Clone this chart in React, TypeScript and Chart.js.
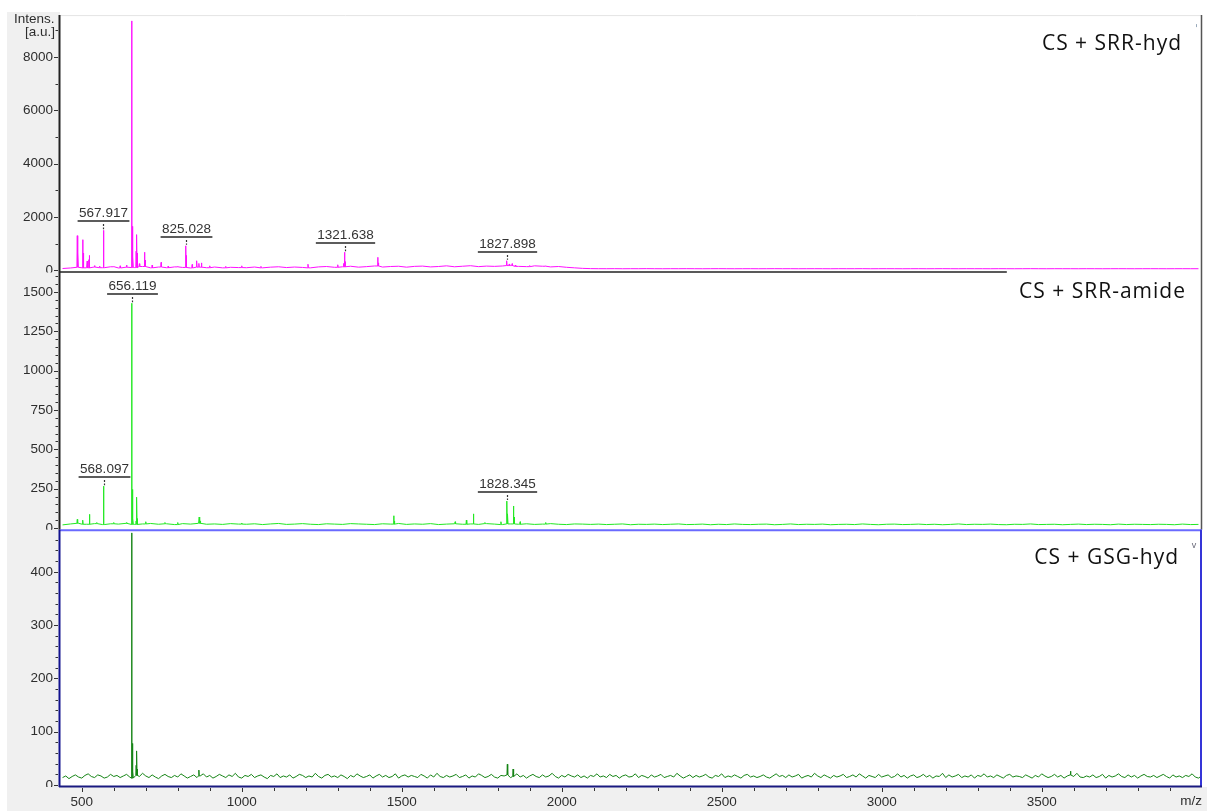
import React, { useEffect, useRef } from 'react';
import { Chart, registerables } from 'chart.js';

Chart.register(...registerables);

// ---------- data ----------
const baseMzStart = 440;
const topMidStep = 25;
const botStep = 10;

const topBaseline = [
  70, 90, 115, 95, 125, 100, 135, 90, 120, 105, 145, 95, 125, 100, 130, 110, 90, 120, 100, 125, 95, 115, 105,
  100, 125, 95, 120, 135, 105, 125, 110, 95, 130, 145, 115, 135, 155, 120, 140, 165, 125, 145, 155, 120, 150,
  160, 130, 145, 170, 135, 155, 175, 140, 160, 150, 165, 180, 150, 140, 170, 155, 130, 145, 115, 95, 75,
  66, 63, 62, 64, 61, 63, 62, 65, 62, 61, 63, 62, 64, 62, 61, 63, 64, 62, 61, 62,
  63, 61, 62, 64, 62, 63, 61, 62, 63, 62, 61, 63, 62, 62, 64, 61, 62, 63, 62, 61,
  62, 63, 61, 62, 64, 62, 61, 63, 62, 62, 61, 63, 62, 61, 62, 64, 62, 61, 63, 62,
  62, 61, 63, 62, 61, 62, 63, 62, 61, 62, 63, 62, 61, 62, 63, 62, 62,
];

const midBaseline = [
  20, 26, 30, 24, 28, 22, 27, 25, 30, 23, 26, 29, 24, 27, 22, 28, 25, 30, 24, 26, 23, 28, 25,
  24, 27, 22, 26, 29, 23, 25, 28, 24, 22, 27, 25, 23, 28, 26, 24, 22, 27, 25, 29,
  23, 26, 24, 28, 22, 25, 27, 24, 26, 23, 28, 25, 22, 26, 24, 27, 23, 25, 28, 24, 22, 26, 25,
  23, 25, 22, 24, 26, 21, 24, 23, 25, 22, 24, 26, 22, 23, 25, 21, 24, 22, 26, 23,
  22, 24, 25, 21, 23, 26, 22, 24, 23, 25, 21, 23, 24, 22, 26, 23, 21, 24, 25, 22,
  23, 25, 22, 24, 21, 23, 26, 22, 24, 23, 25, 22, 21, 24, 23, 26, 22, 23, 24, 21,
  23, 25, 22, 24, 23, 21, 25, 22, 24, 23, 22, 24, 23, 21, 25, 22, 23,
];

const botBaseline = [
  14, 17, 12, 16, 19, 15, 13, 18, 21, 16, 14, 19, 17, 13, 15, 20, 16, 18, 14, 17,
  20, 15, 13, 18, 16, 22, 17, 14, 19, 15, 12, 17, 20, 16, 14, 18, 15, 21, 17, 13,
  16, 19, 14, 17, 21, 15, 18, 13, 16, 20, 17, 14, 19, 16, 22, 15, 13, 18, 16, 20,
  14, 17, 19, 15, 12, 18, 16, 21, 14, 17, 15, 19, 13, 16, 20, 18, 14, 17, 15, 22,
  16, 13, 18, 20, 15, 17, 14, 19, 16, 12, 18, 15, 21, 17, 14, 16, 19, 13, 17, 20,
  15, 18, 14, 16, 21, 13, 17, 19, 15, 18, 16, 14, 20, 17, 13, 19, 15, 22, 16, 14,
  18, 15, 17, 20, 14, 16, 19, 13, 17, 15, 21, 18, 14, 16, 20, 15, 13, 18, 17, 19,
  14, 16, 21, 15, 18, 13, 17, 20, 16, 14, 19, 15, 17, 22, 16, 13, 18, 15, 20, 17,
  15, 19, 14, 17, 13, 18, 16, 21, 15, 17, 14, 20, 16, 18, 13, 17, 19, 15, 16, 21,
  14, 18, 16, 13, 19, 15, 17, 20, 14, 16, 18, 15, 22, 17, 13, 16, 19, 14, 18, 15,
  17, 20, 15, 13, 18, 16, 21, 14, 17, 15, 19, 16, 13, 18, 20, 15, 17, 14, 16, 19,
  15, 13, 17, 21, 16, 18, 14, 19, 15, 17, 20, 13, 16, 18, 15, 22, 17, 14, 19, 16,
  13, 18, 15, 17, 20, 14, 16, 19, 15, 21, 17, 13, 18, 16, 14, 20, 15, 17, 19, 14,
  16, 21, 15, 18, 13, 17, 19, 14, 16, 20, 15, 18, 13, 17, 16, 22, 14, 19, 15, 17,
  20, 14, 17, 15, 19, 13, 18, 16, 21, 15, 17, 14, 19, 16, 13, 18, 20, 15, 17, 16,
  14, 19, 16, 13, 18, 15, 21, 17, 14, 16, 20, 15, 18, 13, 17, 19, 16, 22, 15, 14,
  17, 15, 19, 14, 16, 20, 13, 18, 15, 17, 21, 16, 14, 19, 15, 18, 13, 17, 20, 16,
  15, 18, 14, 17, 20, 16, 13, 19, 15, 17, 14, 18, 16, 21, 15, 13, 17,
];

const topPeakMz = [
  486, 488, 503, 505, 517, 522, 524, 540, 556, 567.917, 569, 600, 620, 640, 656, 658, 660, 670, 672, 674,
  680, 696, 698, 720, 748, 770, 800, 825.028, 827, 845, 859, 866, 874, 900, 950, 1000, 1060, 1207, 1300, 1318,
  1321.638, 1323, 1425, 1427, 1827.898, 1836, 1845, 1855, 1900, 1950,
];
const topPeakInt = [
  1300, 650, 1150, 650, 350, 400, 560, 180, 160, 1500, 1080, 150, 170, 200, 9350, 1650, 500, 720, 1340, 650,
  250, 680, 380, 200, 300, 160, 150, 920, 560, 220, 360, 260, 280, 170, 150, 170, 150, 230, 210, 260,
  680, 330, 490, 280, 360, 240, 250, 200, 180, 170,
];

const midPeakMz = [
  486, 503, 524, 547, 568.097, 569, 600, 640, 656.119, 658, 660, 670, 672, 674, 700, 760, 800, 867, 870, 1000,
  1475, 1477, 1667, 1702, 1724, 1760, 1810, 1828.345, 1831, 1849, 1851, 1870, 1950,
];
const midPeakInt = [
  55, 50, 87, 35, 266, 150, 35, 35, 1428, 245, 60, 45, 196, 60, 40, 35, 35, 70, 45, 32,
  78, 45, 40, 50, 90, 35, 40, 171, 90, 140, 70, 40, 35,
];

const botPeakMz = [656, 658, 660, 670, 672, 674, 866, 1830, 1848, 3590];
const botPeakInt = [473, 78, 25, 37, 64, 30, 28, 39, 30, 26];

const topLabels = ['567.917', '825.028', '1321.638', '1827.898'];
const midLabels = ['656.119', '568.097', '1828.345'];

const xTickLabels = [500, 1000, 1500, 2000, 2500, 3000, 3500];
const topTicks = [0, 2000, 4000, 6000, 8000];
const midTicks = [0, 250, 500, 750, 1000, 1250, 1500];
const botTicks = [0, 100, 200, 300, 400];
const topMinorStep = 1000;
const midMinorStep = 50;
const botMinorStep = 20;

const panelTitles = ['CS + SRR-hyd', 'CS + SRR-amide', 'CS + GSG-hyd'];
const seriesColors = ['#ff10ff', '#22e822', '#158415'];

// ---------- helpers ----------
const FONT = '"Liberation Sans", Arial, sans-serif';

function buildSeries(baseline: number[], step: number, peakMz: number[], peakInt: number[]) {
  const foot = 1.2;
  const baseAt = (mz: number) =>
    baseline[Math.max(0, Math.min(baseline.length - 1, Math.round((mz - baseMzStart) / step)))];
  const pts: { x: number; y: number }[] = [];
  baseline.forEach((v, i) => {
    const mz = baseMzStart + i * step;
    if (peakMz.some((p) => Math.abs(p - mz) <= foot + 0.5)) return;
    pts.push({ x: mz, y: v });
  });
  peakMz.forEach((mz, i) => {
    const b = baseAt(mz);
    pts.push({ x: mz - foot, y: b }, { x: mz, y: peakInt[i] }, { x: mz + foot, y: b });
  });
  pts.sort((a, b) => a.x - b.x);
  return pts;
}

function yScale(ticksArr: number[], min: number, max: number, weight: number) {
  return {
    type: 'linear',
    position: 'left',
    stack: 'panels',
    stackWeight: 1,
    weight,
    min,
    max,
    afterBuildTicks: (s: any) => {
      s.ticks = ticksArr.map((v) => ({ value: v }));
    },
    afterFit: (s: any) => {
      s.width = 53;
    },
    grid: { display: false, drawTicks: false },
    border: { display: false },
    ticks: {
      font: { family: FONT, size: 13.5 },
      color: '#2e2e2e',
      padding: 7,
      autoSkip: false,
      callback: (v: any) => (v === 0 ? '' : String(v)),
    },
  };
}

const framePlugin = {
  id: 'msFrame',
  beforeDraw(chart: any) {
    const { ctx, chartArea: ca } = chart;
    const W = chart.width;
    const H = chart.height;
    ctx.save();
    ctx.fillStyle = '#ffffff';
    ctx.fillRect(0, 0, W, H);
    ctx.fillStyle = '#f0f0f0';
    ctx.fillRect(7, 12, ca.left - 7, H - 12);
    ctx.fillRect(7, ca.bottom, W - 7, H - ca.bottom);
    ctx.restore();
  },
  afterDatasetsDraw(chart: any) {
    const { ctx, chartArea: ca, scales } = chart;
    const x = scales.x;
    const yT = scales.yTop;
    const yM = scales.yMid;
    const yB = scales.yBot;
    ctx.save();

    // top faint line
    ctx.strokeStyle = '#e4e4e4';
    ctx.lineWidth = 1;
    ctx.beginPath();
    ctx.moveTo(ca.left, ca.top + 0.5);
    ctx.lineTo(ca.right, ca.top + 0.5);
    ctx.stroke();

    // left axis line (upper panels)
    ctx.strokeStyle = '#222';
    ctx.lineWidth = 2;
    ctx.beginPath();
    ctx.moveTo(ca.left - 0.5, ca.top);
    ctx.lineTo(ca.left - 0.5, yM.bottom);
    ctx.stroke();

    // right line (upper panels)
    ctx.strokeStyle = '#555';
    ctx.lineWidth = 1.5;
    ctx.beginPath();
    ctx.moveTo(ca.right - 0.5, ca.top);
    ctx.lineTo(ca.right - 0.5, yM.bottom);
    ctx.stroke();

    // partial line under top panel
    ctx.strokeStyle = '#222';
    ctx.lineWidth = 1.5;
    ctx.beginPath();
    ctx.moveTo(ca.left, yT.bottom - 0.5);
    ctx.lineTo(x.getPixelForValue(3391), yT.bottom - 0.5);
    ctx.stroke();

    // bottom panel blue frame
    ctx.lineWidth = 2;
    ctx.strokeStyle = '#6a6aff';
    ctx.beginPath();
    ctx.moveTo(ca.left, yB.top + 0.5);
    ctx.lineTo(ca.right, yB.top + 0.5);
    ctx.stroke();
    ctx.strokeStyle = '#3535d8';
    ctx.beginPath();
    ctx.moveTo(ca.right - 1, yB.top);
    ctx.lineTo(ca.right - 1, yB.bottom);
    ctx.stroke();
    ctx.strokeStyle = '#12128e';
    ctx.beginPath();
    ctx.moveTo(ca.left - 0.5, yB.top);
    ctx.lineTo(ca.left - 0.5, yB.bottom);
    ctx.stroke();
    ctx.strokeStyle = '#1a1a80';
    ctx.beginPath();
    ctx.moveTo(ca.left - 1, yB.bottom - 0.5);
    ctx.lineTo(ca.right, yB.bottom - 0.5);
    ctx.stroke();

    // peak labels
    const drawLabels = (labels: string[], mzs: number[], ints: number[], ys: any) => {
      ctx.font = `13.5px ${FONT}`;
      labels.forEach((t) => {
        const mz = parseFloat(t);
        let best = 0;
        mzs.forEach((m, i) => {
          if (Math.abs(m - mz) < Math.abs(mzs[best] - mz)) best = i;
        });
        const px = Math.round(x.getPixelForValue(mzs[best])) + 0.5;
        const py = ys.getPixelForValue(ints[best]);
        const uy = Math.round(py - 9);
        const tw = ctx.measureText(t).width;
        ctx.fillStyle = '#333';
        ctx.textAlign = 'center';
        ctx.textBaseline = 'alphabetic';
        ctx.fillText(t, px, uy - 4);
        ctx.strokeStyle = '#5c5c5c';
        ctx.lineWidth = 2;
        ctx.setLineDash([]);
        ctx.beginPath();
        ctx.moveTo(px - tw / 2 - 1.5, uy);
        ctx.lineTo(px + tw / 2 + 1.5, uy);
        ctx.stroke();
        ctx.strokeStyle = '#333';
        ctx.lineWidth = 1.2;
        ctx.setLineDash([2, 1.5]);
        ctx.beginPath();
        ctx.moveTo(px, uy + 3);
        ctx.lineTo(px, py - 1);
        ctx.stroke();
        ctx.setLineDash([]);
      });
    };
    drawLabels(topLabels, topPeakMz, topPeakInt, yT);
    drawLabels(midLabels, midPeakMz, midPeakInt, yM);

    // panel titles
    const titleOffsets = [
      [35, 20],
      [26, 16],
      [34, 23],
    ];
    [yT, yM, yB].forEach((s: any, i: number) => {
      ctx.font = `21px "Open Sans", "Noto Sans", sans-serif`;
      try {
        (ctx as any).letterSpacing = '1px';
      } catch (e) {}
      ctx.fillStyle = '#111';
      ctx.textAlign = 'right';
      ctx.textBaseline = 'alphabetic';
      ctx.fillText(panelTitles[i], ca.right - titleOffsets[i][1], s.top + titleOffsets[i][0]);
      try {
        (ctx as any).letterSpacing = '0px';
      } catch (e) {}
    });

    // small marks
    ctx.font = `9px ${FONT}`;
    ctx.fillStyle = '#667';
    ctx.textAlign = 'center';
    ctx.textBaseline = 'middle';
    ctx.fillText('v', ca.right - 8, yB.top + 16);
    ctx.fillStyle = '#9ab';
    ctx.fillRect(ca.right - 6, ca.top + 9, 1, 3);

    ctx.restore();
  },
  afterDraw(chart: any) {
    const { ctx, chartArea: ca, scales } = chart;
    const x = scales.x;
    ctx.save();
    ctx.strokeStyle = '#333';
    ctx.lineWidth = 1;

    // y ticks
    const ys: [any, number[], number][] = [
      [scales.yTop, topTicks, topMinorStep],
      [scales.yMid, midTicks, midMinorStep],
      [scales.yBot, botTicks, botMinorStep],
    ];
    ys.forEach(([s, major, step]) => {
      for (let v = 0; v <= s.max; v += step) {
        const py = Math.round(s.getPixelForValue(v)) + 0.5;
        if (py < s.top + 1) continue;
        const len = major.includes(v) ? 4 : 2.5;
        ctx.beginPath();
        ctx.moveTo(ca.left - 2 - len, py);
        ctx.lineTo(ca.left - 2, py);
        ctx.stroke();
      }
      // clipped zero label
      ctx.save();
      ctx.beginPath();
      ctx.rect(7, s.top, ca.left - 7, s.bottom - s.top);
      ctx.clip();
      ctx.font = `13.5px ${FONT}`;
      ctx.fillStyle = '#2e2e2e';
      ctx.textAlign = 'right';
      ctx.textBaseline = 'middle';
      ctx.fillText('0', ca.left - 7, s.getPixelForValue(0));
      ctx.restore();
    });

    // x ticks
    for (let v = 500; v <= 4000; v += 100) {
      const px = Math.round(x.getPixelForValue(v)) + 0.5;
      if (px > ca.right) continue;
      ctx.beginPath();
      ctx.moveTo(px, ca.bottom + 1);
      ctx.lineTo(px, ca.bottom + (v % 500 === 0 ? 5 : 4));
      ctx.stroke();
    }

    // axis titles
    ctx.font = `13.5px ${FONT}`;
    ctx.fillStyle = '#2e2e2e';
    ctx.textAlign = 'right';
    ctx.textBaseline = 'alphabetic';
    ctx.fillText('Intens.', ca.left - 5.5, 23);
    ctx.fillText('[a.u.]', ca.left - 5, 36);
    ctx.textBaseline = 'middle';
    ctx.fillText('m/z', ca.right, 801);
    ctx.restore();
  },
};

export default function App() {
  const ref = useRef<HTMLCanvasElement | null>(null);
  useEffect(() => {
    if (!ref.current) return;
    const topPts = buildSeries(topBaseline, topMidStep, topPeakMz, topPeakInt);
    const midPts = buildSeries(midBaseline, topMidStep, midPeakMz, midPeakInt);
    const botPts = buildSeries(botBaseline, botStep, botPeakMz, botPeakInt);
    const ds = (data: any[], axis: string, color: string) => ({
      data,
      yAxisID: axis,
      borderColor: color,
      backgroundColor: color,
      borderWidth: 1,
      pointRadius: 0,
      tension: 0,
      fill: false,
    });
    const chart = new Chart(ref.current, {
      type: 'line',
      data: {
        datasets: [
          ds(topPts, 'yTop', seriesColors[0]),
          ds(midPts, 'yMid', seriesColors[1]),
          ds(botPts, 'yBot', seriesColors[2]),
        ],
      },
      options: {
        animation: false,
        responsive: false,
        layout: { padding: { left: 7, top: 12, right: 5, bottom: 0 } },
        plugins: { legend: { display: false }, tooltip: { enabled: false } },
        scales: {
          x: {
            type: 'linear',
            min: 432,
            max: 4001,
            afterBuildTicks: (s: any) => {
              s.ticks = xTickLabels.map((v) => ({ value: v }));
            },
            afterFit: (s: any) => {
              s.height = 24;
            },
            grid: { display: false, drawTicks: false },
            border: { display: false },
            ticks: {
              font: { family: FONT, size: 13.5 },
              color: '#2e2e2e',
              padding: 7,
              maxRotation: 0,
              autoSkip: false,
              callback: (v: any) => String(v),
            },
          },
          yBot: yScale(botTicks, -3.7, 479, 1),
          yMid: yScale(midTicks, -10.6, 1624, 2),
          yTop: yScale(topTicks, -76, 9568, 3),
        } as any,
      },
      plugins: [framePlugin],
    } as any);
    return () => chart.destroy();
  }, []);
  return (
    <div style={{ position: 'fixed', left: 0, top: 0, width: 1207, height: 811 }}>
      <canvas ref={ref} width={1207} height={811} style={{ display: 'block' }} />
    </div>
  );
}
